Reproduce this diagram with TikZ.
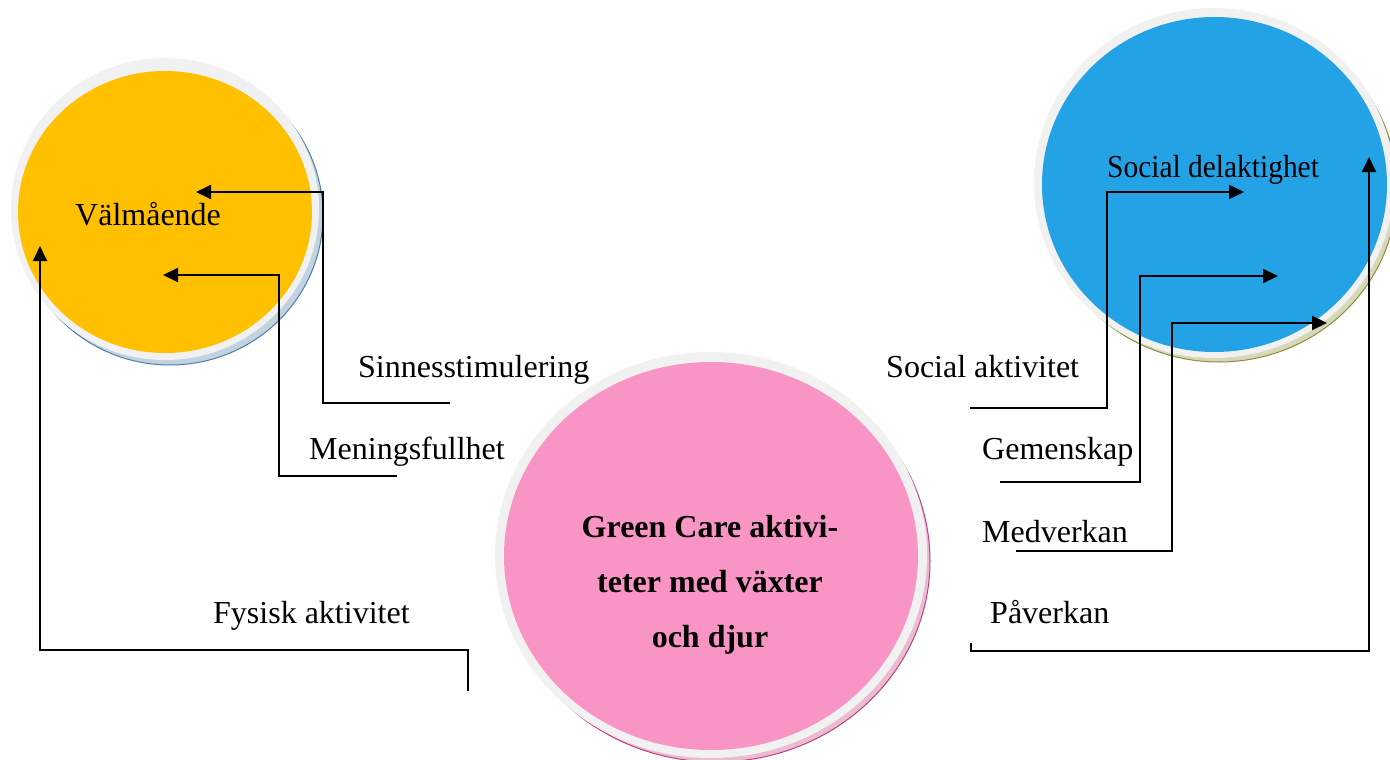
\documentclass[tikz,border=0pt]{standalone}
\usepackage{fontspec}
\setmainfont{Liberation Serif}
\usetikzlibrary{shapes.geometric,arrows.meta}
\definecolor{cyellow}{HTML}{FFC000}
\definecolor{cblue}{HTML}{23A3E6}
\definecolor{cpink}{HTML}{F895C4}
\definecolor{crim}{HTML}{F1F1F1}
\definecolor{shy}{HTML}{4E7FA6}
\definecolor{shb}{HTML}{8E8E3A}
\definecolor{shp}{HTML}{C2407E}
\begin{document}
\begin{tikzpicture}[x=1pt,y=-1pt,
  oval/.style={ellipse, inner sep=0pt, outer sep=0pt},
  lbl/.style={font=\fontsize{32}{38}\selectfont, inner sep=0pt, anchor=base west},
  conn/.style={line width=2pt, -{Triangle[length=15pt,width=14pt]}},
  plainline/.style={line width=2pt}]
\useasboundingbox (0,0) rectangle (1390,760);
\fill[white] (0,0) rectangle (1390,760);
% yellow circle
\node[oval, fill=shy!35, draw=shy, line width=1pt, minimum width=306pt, minimum height=300pt] (ysh) at (170,215) {};
\node[oval, fill=crim, minimum width=308pt, minimum height=302pt] (yrim) at (165,209) {};
\node[oval, fill=cyellow, minimum width=294pt, minimum height=282pt] (ycirc) at (165,212) {};
% blue circle
\node[oval, fill=shb!35, draw=shb, line width=1pt, minimum width=356pt, minimum height=346pt] (bsh) at (1219,189) {};
\node[oval, fill=crim, minimum width=360pt, minimum height=350pt] (brim) at (1214,183) {};
\node[oval, fill=cblue, minimum width=345pt, minimum height=335pt] (bcirc) at (1214.5,184.5) {};
% pink circle
\node[oval, fill=shp!35, draw=shp, line width=1pt, minimum width=428pt, minimum height=402pt] (psh) at (716,561) {};
\node[oval, fill=crim, minimum width=432pt, minimum height=406pt] (prim) at (711,555) {};
\node[oval, fill=cpink, minimum width=414pt, minimum height=388pt] (pcirc) at (711,556) {};
% labels
\node[lbl] (valm) at (75,225) {Välmående};
\node[lbl] (socdel) at (1107,177) {\scalebox{0.92}[1]{Social delaktighet}};
\node[lbl] (sinn) at (358,377) {Sinnesstimulering};
\node[lbl] (men) at (309,459) {Meningsfullhet};
\node[lbl] (fys) at (213,623) {Fysisk aktivitet};
\node[lbl] (socakt) at (886,377) {Social aktivitet};
\node[lbl] (gem) at (982,459) {Gemenskap};
\node[lbl] (medv) at (982,542) {Medverkan};
\node[lbl] (pav) at (990,623) {Påverkan};
\node[font=\bfseries\fontsize{32}{55}\selectfont, align=center, inner sep=0pt] (gc) at (710,585)
  {Green Care aktivi-\\teter med växter\\och djur};
% connector ends
\coordinate (s1) at (450,403); \coordinate (t1) at (196,192);
\coordinate (s2) at (397,476); \coordinate (t2) at (163,275);
\coordinate (s3) at (468,691); \coordinate (t3) at (40,246);
\coordinate (s4) at (970,408); \coordinate (t4) at (1244,192);
\coordinate (s5) at (1000,482); \coordinate (t5) at (1278,276);
\coordinate (s6) at (1016,551); \coordinate (t6) at (1327,323);
\coordinate (s7) at (971,643); \coordinate (t7) at (1369,157);
\draw[conn] (s1) -- ++(-127,0) |- (t1);
\draw[conn] (s2) -- ++(-118,0) |- (t2);
\draw[conn] (s3) -- ++(0,-41) -| (t3);
\draw[conn] (s4) -- ++(137,0) |- (t4);
\draw[conn] (s5) -- ++(140,0) |- (t5);
\draw[conn] (s6) -- ++(156,0) |- (t6);
\draw[conn] (s7) -- ++(0,8) -| (t7);
\end{tikzpicture}
\end{document}
